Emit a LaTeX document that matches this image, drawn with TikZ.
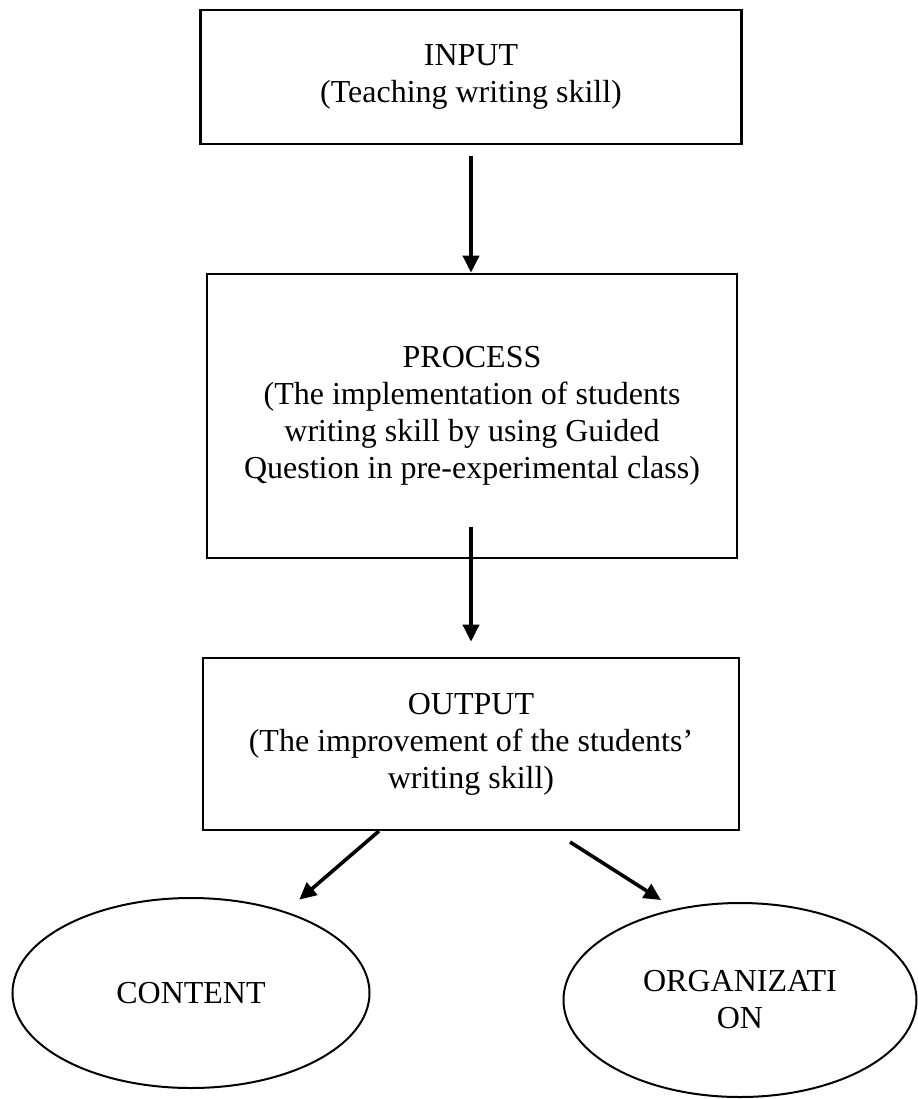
\documentclass[tikz,border=0pt]{standalone}
\usepackage{fontspec}
\setmainfont{Liberation Serif}
\usetikzlibrary{positioning,shapes.geometric,arrows.meta}
\tikzset{box/.style = {rectangle,draw,line width=1.3pt,align=center,inner sep=0pt,font=\fontsize{16}{18.5}\selectfont}}
\tikzset{oval/.style = {ellipse,draw,line width=1pt,align=center,inner sep=0pt,font=\fontsize{16}{18.5}\selectfont}}

\begin{document}
\begin{tikzpicture}[x=0.5pt,y=-0.5pt,arr/.style={-{Triangle[length=8.5pt,width=8pt]},line width=1.8pt}]
    \useasboundingbox (0,0) rectangle (917,1099);
    \node[box,minimum width=270.5pt,minimum height=67pt] (input) at (471,77) {INPUT\\(Teaching writing skill)};
    \node[box,minimum width=265pt,minimum height=142pt] (process) at (472,416) {PROCESS\\(The implementation of students\\writing skill by using Guided\\Question in pre-experimental class)};
    \node[box,minimum width=268pt,minimum height=86pt] (output) at (471,744) {OUTPUT\\(The improvement of the students’\\writing skill)};
    \node[oval,minimum width=178.5pt,minimum height=95pt] (content) at (191,993) {CONTENT};
    \node[oval,minimum width=176.5pt,minimum height=97pt] (organization) at (740,1000) {ORGANIZATI\\ON};
    % free ends of the arrows
    \coordinate (i1) at (471,156);
    \coordinate (p1) at (471,527);
    \coordinate (o1) at (379,831);
    \coordinate (o2) at (570,842);
    \coordinate (o3) at (661,900);
    \draw[arr] (i1) -- (i1 |- process.north);
    \draw[arr,shorten >=7.5pt] (p1) -- (p1 |- output.north);
    \draw[arr,shorten >=9pt] (o1) -- (content);
    \draw[arr] (o2) -- (o3);
\end{tikzpicture}
\end{document}
